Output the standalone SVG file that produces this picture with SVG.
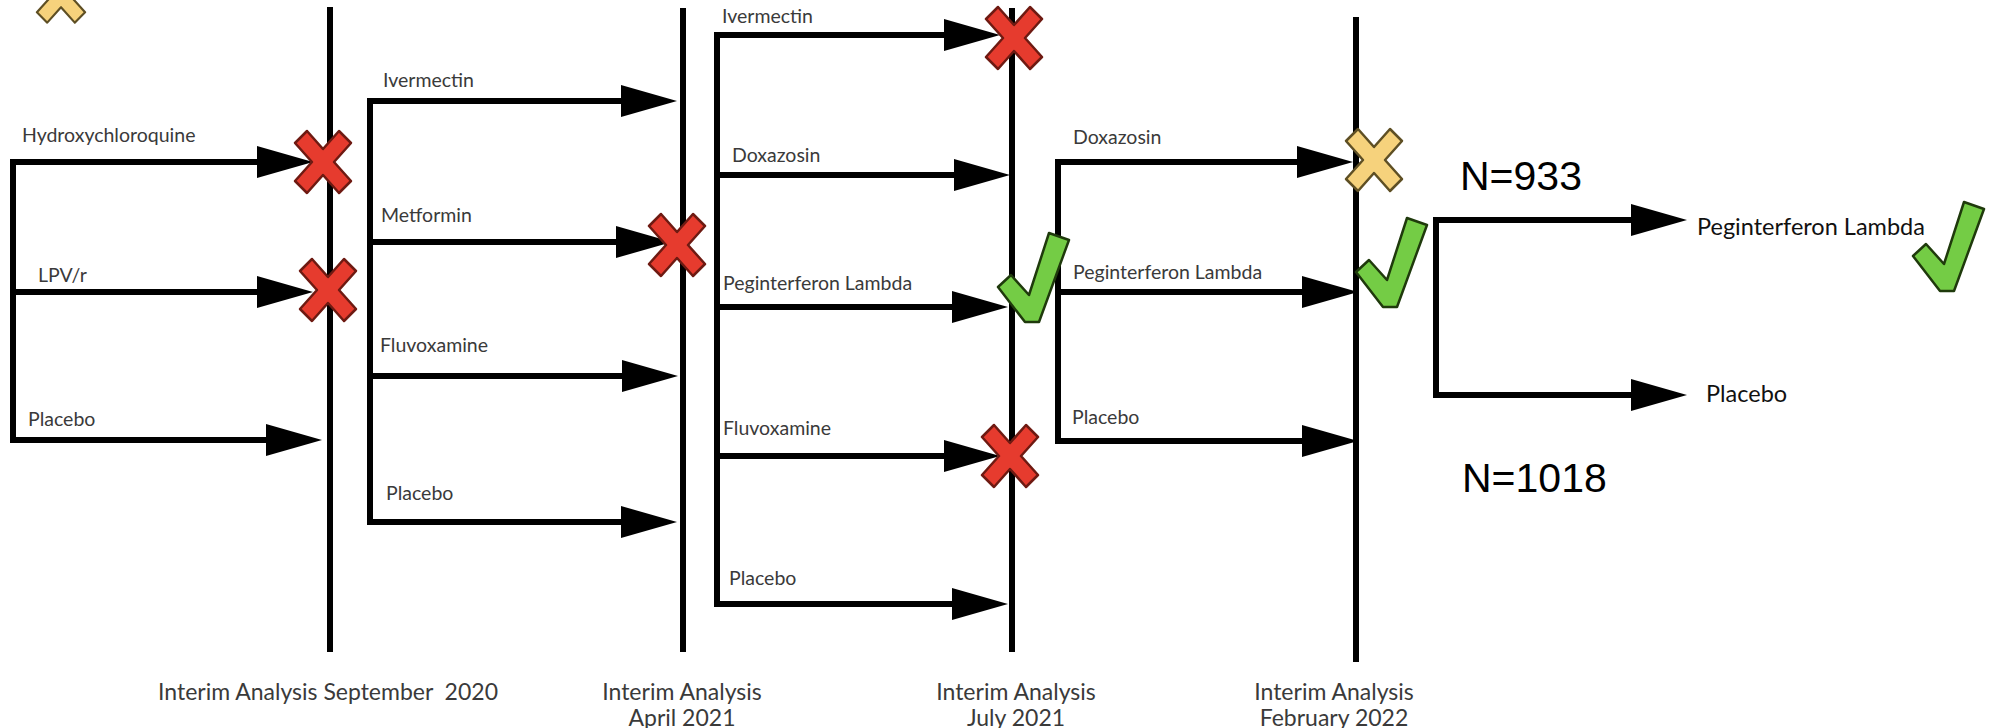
<svg xmlns="http://www.w3.org/2000/svg" width="1990" height="728" viewBox="0 0 1990 728">
<style>
.lbl{font-family:Lato,"Open Sans","Liberation Sans",sans-serif;font-size:19.5px;fill:#3a3a3a}
.rlbl{font-family:Lato,"Open Sans","Liberation Sans",sans-serif;font-size:23.5px;fill:#111}
.ia{font-family:Lato,"Open Sans","Liberation Sans",sans-serif;font-size:23px;fill:#3a3a3a;text-anchor:middle;white-space:pre}
.n{font-family:"Liberation Sans",Arial,sans-serif;font-size:41px;fill:#000}
.tl{stroke:#000;stroke-width:6;fill:none}
.ar{stroke:#000;stroke-width:6;fill:none;stroke-linejoin:miter;marker-end:url(#ah)}
.xr{fill:#e63b2e;stroke:#6e1a12;stroke-width:2.5;stroke-linejoin:round}
.xy{fill:#f6d27c;stroke:#5e4f24;stroke-width:2.5;stroke-linejoin:round}
.ck{fill:#74cc45;stroke:#1f3a0c;stroke-width:2.5;stroke-linejoin:round}
</style>
<defs>
<marker id="ah" markerUnits="userSpaceOnUse" markerWidth="56" markerHeight="32" refX="10" refY="16" orient="auto" overflow="visible">
<path d="M0,0 L56,16 L0,32 Z" fill="#000"/>
</marker>
<polygon id="xm" points="-28,-19 -16,-31 0,-13 16,-31 28,-19 11,0 28,19 16,31 0,13 -16,31 -28,19 -11,0"/>
<path id="cm" d="M51,0 L71,7 L41,89 L27,89 L0,54 L13,42 L31,62 Z"/>
</defs>

<g id="timelines">
<line class="tl" x1="330" y1="7" x2="330" y2="652"/>
<line class="tl" x1="683" y1="8" x2="683" y2="652"/>
<line class="tl" x1="1012" y1="8" x2="1012" y2="652"/>
<line class="tl" x1="1356" y1="17" x2="1356" y2="662"/>
</g>

<g id="connectors">
<path class="ar" d="M13,440 L13,162 L267,162"/>
<path class="ar" d="M13,292 L267,292"/>
<path class="ar" d="M13,162 L13,440 L276,440"/>

<path class="ar" d="M370,522 L370,101 L631,101"/>
<path class="ar" d="M370,242 L626,242"/>
<path class="ar" d="M370,376 L632,376"/>
<path class="ar" d="M370,101 L370,522 L631,522"/>

<path class="ar" d="M717,604 L717,35 L954,35"/>
<path class="ar" d="M717,175 L964,175"/>
<path class="ar" d="M717,307 L962,307"/>
<path class="ar" d="M717,456 L954,456"/>
<path class="ar" d="M717,35 L717,604 L962,604"/>

<path class="ar" d="M1058,441 L1058,162 L1307,162"/>
<path class="ar" d="M1058,292 L1312,292"/>
<path class="ar" d="M1058,162 L1058,441 L1312,441"/>

<path class="ar" d="M1436,395 L1436,220 L1641,220"/>
<path class="ar" d="M1436,220 L1436,395 L1641,395"/>
</g>

<g id="legend-mark">
<use href="#xm" class="xy" transform="translate(61,-4) scale(0.86)"/>
</g>

<g id="analysis-sep-2020">
<text class="ia" x="328" y="700" xml:space="preserve">Interim Analysis September  2020</text>
</g>
<g id="analysis-apr-2021">
<text class="ia" x="682" y="700">Interim Analysis</text>
<text class="ia" x="682" y="726">April 2021</text>
</g>
<g id="analysis-jul-2021">
<text class="ia" x="1016" y="700">Interim Analysis</text>
<text class="ia" x="1016" y="726">July 2021</text>
</g>
<g id="analysis-feb-2022">
<text class="ia" x="1334" y="700">Interim Analysis</text>
<text class="ia" x="1334" y="726">February 2022</text>
</g>

<g id="arm-hcq"><text class="lbl" x="22" y="142">Hydroxychloroquine</text><use href="#xm" class="xr" transform="translate(323,162)"/></g>
<g id="arm-lpvr"><text class="lbl" x="38" y="282">LPV/r</text><use href="#xm" class="xr" transform="translate(328,290)"/></g>
<g id="arm-placebo-1"><text class="lbl" x="28" y="426">Placebo</text></g>

<g id="arm-ivermectin-2"><text class="lbl" x="383" y="87">Ivermectin</text></g>
<g id="arm-metformin"><text class="lbl" x="381" y="222">Metformin</text><use href="#xm" class="xr" transform="translate(677,245)"/></g>
<g id="arm-fluvoxamine-2"><text class="lbl" x="380" y="352">Fluvoxamine</text></g>
<g id="arm-placebo-2"><text class="lbl" x="386" y="500">Placebo</text></g>

<g id="arm-ivermectin-3"><text class="lbl" x="722" y="23">Ivermectin</text><use href="#xm" class="xr" transform="translate(1014,38)"/></g>
<g id="arm-doxazosin-3"><text class="lbl" x="732" y="162">Doxazosin</text></g>
<g id="arm-peg-3"><text class="lbl" x="723" y="290">Peginterferon Lambda</text><use href="#cm" class="ck" transform="translate(998,233)"/></g>
<g id="arm-fluvoxamine-3"><text class="lbl" x="723" y="435">Fluvoxamine</text><use href="#xm" class="xr" transform="translate(1010,456)"/></g>
<g id="arm-placebo-3"><text class="lbl" x="729" y="585">Placebo</text></g>

<g id="arm-doxazosin-4"><text class="lbl" x="1073" y="144">Doxazosin</text><use href="#xm" class="xy" transform="translate(1374,160)"/></g>
<g id="arm-peg-4"><text class="lbl" x="1073" y="279">Peginterferon Lambda</text><use href="#cm" class="ck" transform="translate(1356,218)"/></g>
<g id="arm-placebo-4"><text class="lbl" x="1072" y="424">Placebo</text></g>

<g id="final-peg"><text class="n" x="1460" y="190">N=933</text><text class="rlbl" x="1697" y="235">Peginterferon Lambda</text><use href="#cm" class="ck" transform="translate(1913,202)"/></g>
<g id="final-placebo"><text class="rlbl" x="1706" y="402">Placebo</text><text class="n" x="1462" y="492">N=1018</text></g>
</svg>
